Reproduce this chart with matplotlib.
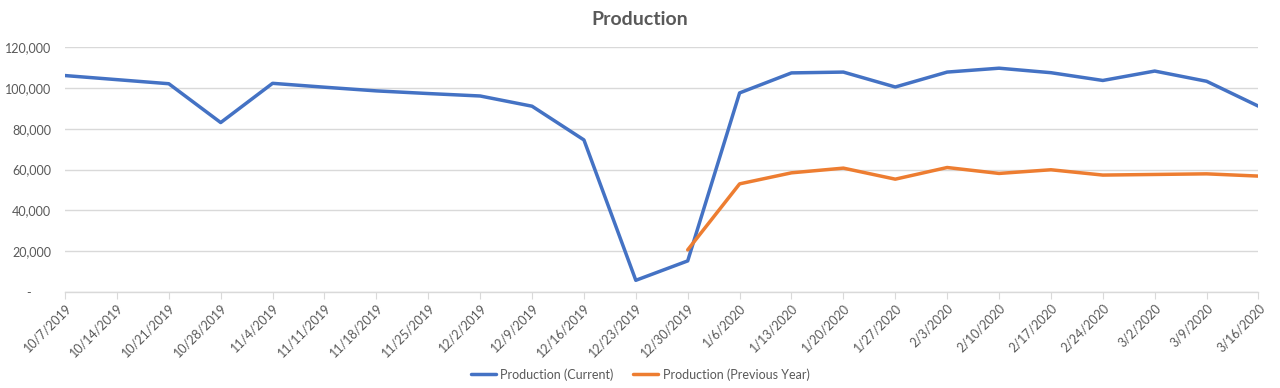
import matplotlib.pyplot as plt
from matplotlib.ticker import FuncFormatter, MultipleLocator

# Weekly categories
dates = ["10/7/2019", "10/14/2019", "10/21/2019", "10/28/2019", "11/4/2019",
         "11/11/2019", "11/18/2019", "11/25/2019", "12/2/2019", "12/9/2019",
         "12/16/2019", "12/23/2019", "12/30/2019", "1/6/2020", "1/13/2020",
         "1/20/2020", "1/27/2020", "2/3/2020", "2/10/2020", "2/17/2020",
         "2/24/2020", "3/2/2020", "3/9/2020", "3/16/2020"]

# Production values
current = [106000, 104000, 102000, 83000, 102200, 100300, 98500, 97200, 96000,
           91000, 74500, 5800, 15300, 97500, 107300, 107700, 100400, 107700,
           109600, 107400, 103600, 108200, 103200, 91000]

# previous year only starts at 12/30/2019
prev_start = 12
previous = [20700, 53000, 58400, 60700, 55300, 61000, 58100, 59900, 57300,
            57600, 57900, 56800]

plt.rcParams['font.family'] = ['Lato', 'DejaVu Sans']
grey = "#595959"

fig = plt.figure(figsize=(12.8, 3.88), dpi=100)
ax = fig.add_axes([0.0508, 0.247, 0.9324, 0.632])

x = list(range(len(dates)))
ax.plot(x, current, color="#4472C4", lw=2.5, label="Production (Current)",
        solid_joinstyle="round", solid_capstyle="round")
ax.plot(x[prev_start:], previous, color="#ED7D31", lw=2.5,
        label="Production (Previous Year)", solid_joinstyle="round",
        solid_capstyle="round")

ax.set_xlim(0, len(dates) - 1)
ax.set_ylim(0, 120000)
ax.yaxis.set_major_locator(MultipleLocator(20000))
ax.yaxis.set_major_formatter(FuncFormatter(
    lambda v, p: "-      " if v == 0 else f"{int(v):,}"))

ax.grid(axis="y", color="#D9D9D9", lw=1)
ax.set_axisbelow(True)
for s in ["top", "right", "left"]:
    ax.spines[s].set_visible(False)
ax.spines["bottom"].set_color("#D9D9D9")
ax.spines["bottom"].set_linewidth(1)

ax.set_xticks(x)
ax.set_xticklabels(dates, rotation=45, ha="right", rotation_mode="anchor")
ax.tick_params(axis="x", colors="#D9D9D9", length=5, labelcolor=grey,
               labelsize=9, pad=2)
ax.tick_params(axis="y", length=0, labelcolor=grey, labelsize=9, pad=10)

fig.suptitle("Production", x=0.5, y=0.972, fontsize=14, fontweight="bold",
             color=grey)

fig.legend(loc="lower center", ncol=2, frameon=False, fontsize=9,
           labelcolor=grey, bbox_to_anchor=(0.5, -0.01), handlelength=2.0,
           handletextpad=0.4, columnspacing=1.5)

fig.savefig("out.png", dpi=100)
